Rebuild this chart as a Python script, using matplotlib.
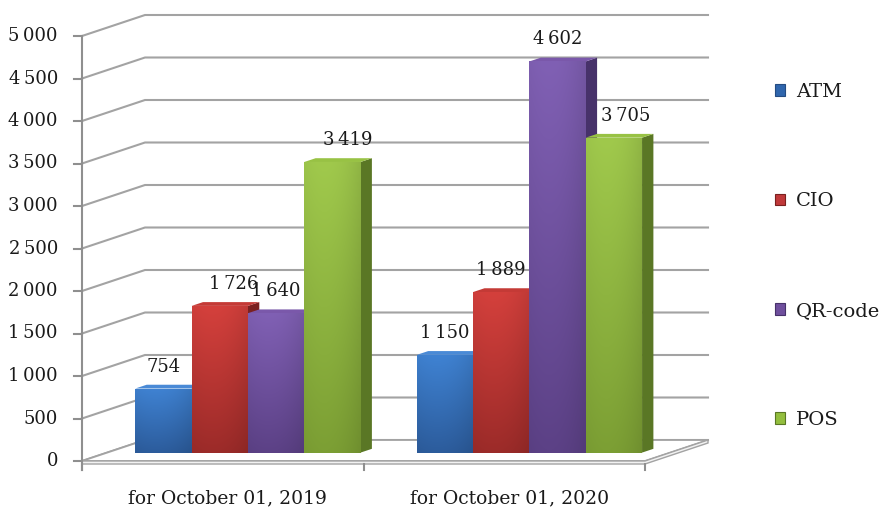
import numpy as np
import matplotlib.pyplot as plt
from matplotlib.patches import Polygon, Patch
from matplotlib.colors import to_rgb

# ---------------- data ----------------
categories = ['for October 01, 2019', 'for October 01, 2020']
series = ['ATM', 'CIO', 'QR-code', 'POS']
atm = [754, 1150]
cio = [1726, 1889]
qr = [1640, 4602]
pos = [3419, 3705]
yticks = np.arange(0, 5001, 500)

values = [atm, cio, qr, pos]

# ---------------- style ----------------
plt.rcParams['font.family'] = ['DejaVu Serif']
FS = 13
TXT = '#1a1a1a'
GRID = '#a3a3a3'
AXC = '#8f8f8f'

# front / top / side colours per series
c_top = ['#3f82d2', '#d4403c', '#8060b4', '#a0c94c']
c_bot = ['#2c5c9c', '#9c2b29', '#5c4186', '#7c9f34']
c_side = ['#244c82', '#7a2120', '#47326a', '#5a7725']
c_lid = ['#4a8ad6', '#c43a36', '#7a58aa', '#98c244']
c_leg = ['#2f66ad', '#c0393a', '#6f4f9d', '#93be3e']

# label nudges (px) where the reference moved a label sideways
nudge = {(0, 1): 14, (0, 3): 15, (1, 3): 12}

# pixel scale of the front plane
PXX = 281.5      # px per category
PXY = 0.085      # px per value unit
WX, WY = 63 / PXX, 21 / PXY      # depth of the chart box
F0, FD = 0.4, 0.18               # bar front depth, bar depth
BW = 0.2                          # bar width in category units

fig = plt.figure(figsize=(8.81, 5.09), dpi=100)
ax = fig.add_axes([0, 0, 1, 1])
ax.set_xlim(-82 / PXX, (881 - 82) / PXX)
ax.set_ylim(-(509 - 461) / PXY, 5000 + 36 / PXY)
ax.axis('off')


def grad_face(verts, top, bot, z):
    verts = np.asarray(verts)
    poly = Polygon(verts, closed=True, facecolor='none', edgecolor='none', zorder=z)
    ax.add_patch(poly)
    n, m = 64, 24
    t = np.linspace(0, 1, n)[:, None, None]
    s = np.linspace(0, 1, m)[None, :, None]
    top, bot = np.array(to_rgb(top)), np.array(to_rgb(bot))
    img = bot + (top - bot) * t
    img = img * (1.0 - 0.10 * ((s - 0.35) / 0.65) ** 2)
    img = np.clip(img, 0, 1)
    im = ax.imshow(img, extent=[verts[:, 0].min(), verts[:, 0].max(),
                                verts[:, 1].min(), verts[:, 1].max()],
                   origin='lower', aspect='auto', interpolation='bilinear', zorder=z)
    im.set_clip_path(poly)


# ---------------- back wall with gridlines ----------------
ncat = len(categories)
for v in yticks:
    ax.plot([0, WX, ncat + WX], [v, v + WY, v + WY], color=GRID, lw=1.5,
            solid_joinstyle='miter', zorder=1)

# floor
floor = Polygon([(0, 0), (ncat, 0), (ncat + WX, WY), (WX, WY)], closed=True,
                facecolor='white', edgecolor=GRID, lw=1.3, zorder=2)
ax.add_patch(floor)
th = 3 / PXY
ax.add_patch(Polygon([(0, 0), (ncat, 0), (ncat + WX, WY), (ncat + WX, WY - th),
                      (ncat, -th), (0, -th)], closed=True, facecolor='#f2f2f2',
                     edgecolor=GRID, lw=1.0, zorder=2))

# axes lines and ticks
ax.plot([0, 0], [-9 / PXY, 5000], color=AXC, lw=1.5, zorder=3)
for v in yticks:
    ax.plot([-8 / PXX, 0], [v, v], color=AXC, lw=1.5, zorder=3)
    ax.text(-24 / PXX, v, f'{v:,}'.replace(',', '\u2009'), ha='right', va='center',
            fontsize=FS, color=TXT)
for i in range(ncat + 1):
    ax.plot([i, i], [-th, -9 / PXY], color=AXC, lw=1.5, zorder=3)
for i, c in enumerate(categories):
    ax.text(i + 0.5 + 5 / PXX, -37 / PXY, c, ha='center', va='center', fontsize=13.5, color=TXT)

# ---------------- bars ----------------
dx, dy = FD * WX, FD * WY
base = F0 * WY
z = 5
for g in range(ncat):
    for s in range(len(series)):
        v = values[s][g]
        x0 = g + 0.5 - 2 * BW + s * BW + F0 * WX
        x1 = x0 + BW
        y0, y1 = base, base + v
        side = [(x1, y0), (x1 + dx, y0 + dy), (x1 + dx, y1 + dy), (x1, y1)]
        ax.add_patch(Polygon(side, closed=True, facecolor=c_side[s], edgecolor='none', zorder=z))
        lid = [(x0, y1), (x1, y1), (x1 + dx, y1 + dy), (x0 + dx, y1 + dy)]
        ax.add_patch(Polygon(lid, closed=True, facecolor=c_lid[s], edgecolor='none', zorder=z))
        grad_face([(x0, y0), (x1, y0), (x1, y1), (x0, y1)], c_top[s], c_bot[s], z)
        z += 1
        lx = (x0 + x1) / 2 + nudge.get((g, s), 0) / PXX
        ax.text(lx, y1 + 22 / PXY, f'{v:,}'.replace(',', '\u2009'), ha='center', va='center',
                fontsize=FS, color=TXT, zorder=40)

# ---------------- legend ----------------
handles = [Patch(facecolor=c_leg[i], edgecolor=c_side[i], lw=0.8) for i in range(len(series))]
fig.legend(handles, series, loc='center left', bbox_to_anchor=(757 / 881, 0.497),
           frameon=False, fontsize=14, labelspacing=4.7, handlelength=0.55,
           handleheight=0.55, handletextpad=0.55, labelcolor=TXT)

fig.savefig('out.png', dpi=100)
